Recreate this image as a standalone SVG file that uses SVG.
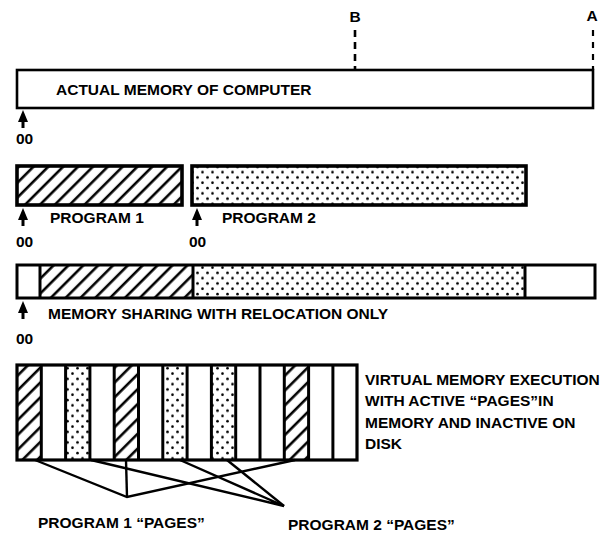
<svg xmlns="http://www.w3.org/2000/svg" width="606" height="536" viewBox="0 0 606 536">
<defs>
<pattern id="hatch" patternUnits="userSpaceOnUse" width="10.5" height="10.5" patternTransform="rotate(45)">
<line x1="5" y1="-1" x2="5" y2="12" stroke="#000" stroke-width="2.6"/>
</pattern>
<pattern id="dots" patternUnits="userSpaceOnUse" width="10" height="10.6">
<circle cx="2.5" cy="2.6" r="1.3" fill="#000"/>
<circle cx="7.5" cy="7.9" r="1.3" fill="#000"/>
</pattern>
<g id="uparrow">
<path d="M0,0 L5,12 L-5,12 Z" fill="#000"/>
<line x1="0" y1="10" x2="0" y2="18" stroke="#000" stroke-width="3"/>
</g>
</defs>
<style>
text{font-family:"Liberation Sans",Arial,Helvetica,sans-serif;font-weight:bold;font-size:15.5px;fill:#000}
.box{fill:#fff;stroke:#000;stroke-width:2.6}
.tbox{stroke:#000;stroke-width:3.6}
.div{stroke:#000;stroke-width:3}
.dash{stroke:#000;stroke-width:2.6;stroke-dasharray:7 5}
.con{stroke:#000;stroke-width:2.4;fill:none}
</style>

<g id="actual-memory">
<rect class="box" x="17" y="70" width="576" height="38"/>
<text x="56" y="95">ACTUAL MEMORY OF COMPUTER</text>
</g>
<g id="marker-b">
<line class="dash" x1="355" y1="30" x2="355" y2="70"/>
<text x="355" y="22" text-anchor="middle">B</text>
</g>
<g id="marker-a">
<line class="dash" x1="593" y1="30" x2="593" y2="70" style="stroke-width:2.2;stroke-dasharray:6 6"/>
<text x="592" y="21" text-anchor="middle">A</text>
</g>
<g id="origin-1">
<use href="#uparrow" x="23" y="110"/>
<text x="16" y="144">00</text>
</g>

<g id="program-1">
<rect class="tbox" x="17" y="166" width="165" height="39" fill="url(#hatch)"/>
<text x="50" y="223">PROGRAM 1</text>
</g>
<g id="origin-2">
<use href="#uparrow" x="23" y="208"/>
<text x="16" y="247">00</text>
</g>
<g id="program-2">
<rect class="tbox" x="192" y="166" width="334" height="39" fill="url(#dots)"/>
<text x="222" y="223">PROGRAM 2</text>
</g>
<g id="origin-3">
<use href="#uparrow" x="197" y="208"/>
<text x="189" y="247">00</text>
</g>

<g id="relocation">
<rect x="40" y="265" width="153" height="33" fill="url(#hatch)"/>
<rect x="193" y="265" width="332" height="33" fill="url(#dots)"/>
<rect x="17" y="265" width="578" height="33" fill="none" stroke="#000" stroke-width="3"/>
<line class="div" x1="40" y1="265" x2="40" y2="298"/>
<line class="div" x1="193" y1="265" x2="193" y2="298"/>
<line class="div" x1="525" y1="265" x2="525" y2="298"/>
<text x="48" y="319">MEMORY SHARING WITH RELOCATION ONLY</text>
</g>
<g id="origin-4">
<use href="#uparrow" x="23" y="301"/>
<text x="16" y="344">00</text>
</g>

<g id="virtual">
<rect x="17" y="365" width="24.3" height="95" fill="url(#hatch)"/>
<rect x="65.6" y="365" width="24.3" height="95" fill="url(#dots)"/>
<rect x="114.2" y="365" width="24.3" height="95" fill="url(#hatch)"/>
<rect x="162.8" y="365" width="24.3" height="95" fill="url(#dots)"/>
<rect x="211.4" y="365" width="24.3" height="95" fill="url(#dots)"/>
<rect x="284.3" y="365" width="24.3" height="95" fill="url(#hatch)"/>
<rect x="17" y="365" width="340" height="95" fill="none" stroke="#000" stroke-width="3.2"/>
<line class="div" x1="41.3" y1="365" x2="41.3" y2="460"/>
<line class="div" x1="65.6" y1="365" x2="65.6" y2="460"/>
<line class="div" x1="89.9" y1="365" x2="89.9" y2="460"/>
<line class="div" x1="114.2" y1="365" x2="114.2" y2="460"/>
<line class="div" x1="138.5" y1="365" x2="138.5" y2="460"/>
<line class="div" x1="162.8" y1="365" x2="162.8" y2="460"/>
<line class="div" x1="187.1" y1="365" x2="187.1" y2="460"/>
<line class="div" x1="211.4" y1="365" x2="211.4" y2="460"/>
<line class="div" x1="235.7" y1="365" x2="235.7" y2="460"/>
<line class="div" x1="260" y1="365" x2="260" y2="460"/>
<line class="div" x1="284.3" y1="365" x2="284.3" y2="460"/>
<line class="div" x1="308.6" y1="365" x2="308.6" y2="460"/>
<line class="div" x1="332.9" y1="365" x2="332.9" y2="460"/>
<text x="365" y="385">VIRTUAL MEMORY EXECUTION</text>
<text x="365" y="406">WITH ACTIVE “PAGES”IN</text>
<text x="365" y="428">MEMORY AND INACTIVE ON</text>
<text x="365" y="449">DISK</text>
</g>

<g id="connectors">
<polyline class="con" points="35,460 127,497 295,460"/>
<line class="con" x1="126" y1="460" x2="127" y2="497"/>
<polyline class="con" points="91,460 284,506 180,460"/>
<line class="con" x1="227" y1="460" x2="284" y2="506"/>
</g>

<g id="page-labels">
<text x="38" y="528">PROGRAM 1 “PAGES”</text>
<text x="288" y="530">PROGRAM 2 “PAGES”</text>
</g>
</svg>
